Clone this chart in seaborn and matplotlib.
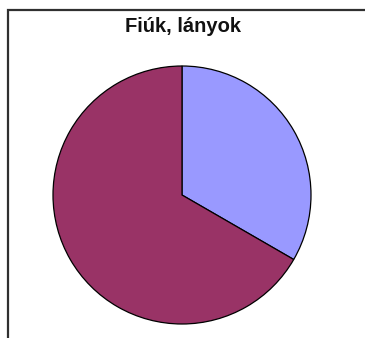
import matplotlib
matplotlib.use('Agg')
from matplotlib import pyplot as plt
from matplotlib.patches import Rectangle
import seaborn as sns

# data
labels = ["Fiúk", "Lányok"]
values = [1, 2]
colors = ["#9999FF", "#993366"]
title = "Fiúk, lányok"

sns.set_style("white")
plt.rcParams['font.family'] = ['Liberation Sans', 'DejaVu Sans']

fig = plt.figure(figsize=(3.65, 3.38), dpi=100)

# chart frame (only left and top visible in the crop)
fig.add_artist(Rectangle((7.5 / 365, -0.1), 1.2, 1 - 9.5 / 338 + 0.1,
                         transform=fig.transFigure, fill=False,
                         edgecolor="#303030", linewidth=1.6))

fig.text(183 / 365, 1 - 26 / 338, title, ha="center", va="center",
         fontsize=14.5, fontweight="bold", color="#111111")

ax = fig.add_axes([53 / 365, 14 / 338, 258 / 365, 258 / 338])
ax.pie(values, colors=colors, startangle=90, counterclock=False,
       wedgeprops=dict(edgecolor="black", linewidth=0.9))
ax.set_xlim(-1, 1)
ax.set_ylim(-1, 1)
ax.set_aspect("equal")
ax.axis("off")

fig.savefig("out.png", dpi=100)
